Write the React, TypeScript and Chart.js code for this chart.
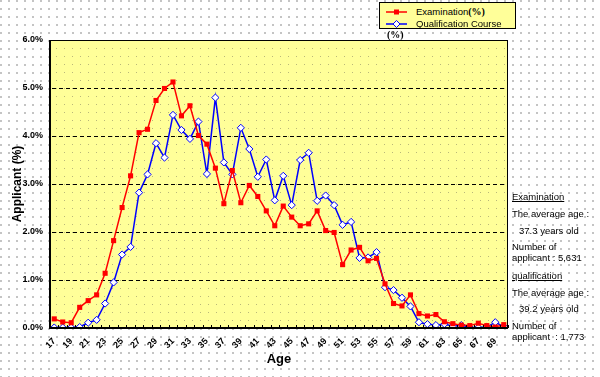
import React, { useEffect, useRef } from 'react';
import { Chart, registerables } from 'chart.js';

Chart.register(...registerables);

const ages = ['17','18','19','20','21','22','23','24','25','26','27','28','29','30','31','32','33','34','35','36','37','38','39','40','41','42','43','44','45','46','47','48','49','50','51','52','53','54','55','56','57','58','59','60','61','62','63','64','65','66','67','68','69','70'];

const examination = [0.19,0.125,0.11,0.43,0.57,0.69,1.14,1.82,2.51,3.17,4.07,4.14,4.74,4.99,5.125,4.42,4.63,4.01,3.83,3.33,2.59,3.28,2.61,2.97,2.74,2.44,2.13,2.54,2.31,2.13,2.17,2.44,2.03,1.99,1.32,1.625,1.68,1.40,1.45,0.92,0.51,0.46,0.69,0.30,0.25,0.28,0.13,0.09,0.06,0.05,0.10,0.05,0.02,0.07];

const qualification = [0.01,0.01,0.01,0.02,0.11,0.17,0.51,0.95,1.53,1.69,2.82,3.20,3.85,3.55,4.44,4.125,3.94,4.30,3.21,4.80,3.45,3.20,4.17,3.73,3.15,3.51,2.66,3.17,2.56,3.50,3.65,2.65,2.76,2.56,2.15,2.21,1.46,1.47,1.58,0.85,0.79,0.63,0.45,0.12,0.08,0.06,0.08,0.04,0.06,0.01,0.01,0.02,0.12,0.03];

const yMin = 0;
const yMax = 6;
const yStep = 1;

const seriesNames = ['Examination', 'Qualification Course'];

const notes: { text: string; x: number; y: number; u?: boolean }[] = [
  { text: 'Examination', x: 512, y: 197, u: true },
  { text: 'The average age :', x: 512, y: 214 },
  { text: '37.3 years old', x: 519, y: 231 },
  { text: 'Number of', x: 512, y: 247 },
  { text: 'applicant : 5,631', x: 512, y: 258 },
  { text: 'qualification', x: 512, y: 276, u: true },
  { text: 'The average age :', x: 512, y: 293 },
  { text: '39.2 years old', x: 519, y: 309 },
  { text: 'Number of', x: 512, y: 326 },
  { text: 'applicant  : 1,773', x: 512, y: 337 },
];

const FONT = '"Liberation Sans", Arial, sans-serif';

const decorPlugin = {
  id: 'decor',
  beforeDraw(chart: any) {
    const { ctx, chartArea: a } = chart;
    const pc = document.createElement('canvas');
    pc.width = 8;
    pc.height = 8;
    const p = pc.getContext('2d')!;
    p.fillStyle = '#ffff99';
    p.fillRect(0, 0, 8, 8);
    p.fillStyle = '#b9b77a';
    p.fillRect(0, 0, 1, 1);
    const pat = ctx.createPattern(pc, 'repeat');
    ctx.save();
    ctx.fillStyle = pat || '#ffff99';
    ctx.fillRect(a.left, a.top, a.right - a.left, a.bottom - a.top);
    ctx.restore();
  },
  beforeDatasetsDraw(chart: any) {
    const { ctx, chartArea: a } = chart;
    const ys = chart.scales.y;
    ctx.save();
    ctx.strokeStyle = '#000';
    ctx.lineWidth = 1;
    ctx.setLineDash([4, 3]);
    ys.ticks.forEach((t: any) => {
      if (t.value <= yMin || t.value >= yMax) return;
      const py = Math.round(ys.getPixelForValue(t.value)) + 0.5;
      ctx.beginPath();
      ctx.moveTo(a.left + 2, py);
      ctx.lineTo(a.right, py);
      ctx.stroke();
    });
    ctx.restore();
  },
  afterDraw(chart: any) {
    const { ctx, chartArea: a } = chart;
    const xs = chart.scales.x;
    const n = chart.data.labels.length;
    ctx.save();
    ctx.strokeStyle = '#000';
    ctx.lineWidth = 1;
    for (let i = 0; i <= n; i++) {
      const px = Math.round(xs.left + (i * (xs.right - xs.left)) / n) + 0.5;
      ctx.beginPath();
      ctx.moveTo(px, a.bottom - 3);
      ctx.lineTo(px, a.bottom);
      ctx.stroke();
    }
    ctx.strokeRect(a.left + 0.5, a.top + 0.5, a.right - a.left - 1, a.bottom - a.top - 1);
    ctx.fillStyle = '#000';
    ctx.fillRect(a.left - 1, a.top, 2, a.bottom - a.top + 1);
    ctx.fillRect(a.left - 1, a.bottom - 1, a.right - a.left + 1, 2);
    ctx.restore();
  },
};

export default function App() {
  const ref = useRef<HTMLCanvasElement>(null);

  useEffect(() => {
    if (!ref.current) return;
    const chart = new Chart(ref.current, {
      type: 'line',
      data: {
        labels: ages,
        datasets: [
          {
            label: seriesNames[0],
            data: examination,
            borderColor: '#ff0000',
            backgroundColor: '#ff0000',
            borderWidth: 1.5,
            pointStyle: 'rect',
            pointRadius: 3.6,
            pointBorderWidth: 0,
            pointBackgroundColor: '#ff0000',
            tension: 0,
          },
          {
            label: seriesNames[1],
            data: qualification,
            borderColor: '#0000ff',
            backgroundColor: '#ffffff',
            borderWidth: 1.5,
            pointStyle: 'rectRot',
            pointRadius: 3.6,
            pointBorderWidth: 1,
            pointBackgroundColor: '#ffffff',
            pointBorderColor: '#0000ff',
            tension: 0,
          },
        ],
      },
      options: {
        animation: false,
        responsive: false,
        maintainAspectRatio: false,
        layout: { padding: { top: 40, right: 92, left: 0, bottom: 0 } },
        plugins: { legend: { display: false }, tooltip: { enabled: false } },
        scales: {
          x: {
            type: 'category',
            offset: true,
            grid: { display: false, drawTicks: false },
            border: { display: false },
            ticks: {
              autoSkip: false,
              maxRotation: 45,
              minRotation: 45,
              padding: 8,
              color: '#000',
              font: { family: FONT, size: 9, weight: 'bold' },
              callback: (_v: any, i: number) => (i % 2 === 0 ? ages[i] : ''),
            },
            title: {
              display: true,
              text: 'Age',
              color: '#000',
              font: { family: FONT, size: 13, weight: 'bold' },
              padding: { top: 0, bottom: 10 },
            },
            afterFit: (s: any) => {
              s.height = 49;
            },
          },
          y: {
            min: yMin,
            max: yMax,
            grid: { display: false, drawTicks: false },
            border: { display: false },
            ticks: {
              stepSize: yStep,
              padding: 7,
              color: '#000',
              font: { family: FONT, size: 9, weight: 'bold' },
              callback: (v: any) => `${Number(v).toFixed(1)}%`,
            },
            title: {
              display: true,
              text: 'Applicant (%)',
              color: '#000',
              font: { family: FONT, size: 12, weight: 'bold' },
              padding: { top: 10, bottom: 0 },
            },
            afterFit: (s: any) => {
              s.width = 50;
            },
          },
        },
      } as any,
      plugins: [decorPlugin],
    });
    return () => chart.destroy();
  }, []);

  return (
    <div
      style={{
        position: 'absolute',
        left: 0,
        top: 0,
        width: 600,
        height: 377,
        overflow: 'hidden',
        backgroundColor: '#ffffff',
        backgroundImage: 'radial-gradient(circle at 1px 1px, #c4c4c4 0.8px, transparent 1px)',
        backgroundSize: '8px 8px',
        fontFamily: FONT,
      }}
    >
      <canvas ref={ref} width={600} height={377} style={{ position: 'absolute', left: 0, top: 0 }} />
      <div
        style={{
          position: 'absolute',
          left: 379,
          top: 2,
          width: 137,
          height: 27,
          boxSizing: 'border-box',
          background: '#ffff99',
          border: '1px solid #000',
        }}
      >
        <svg width={30} height={27} style={{ position: 'absolute', left: 3, top: -1 }}>
          <line x1={3} y1={10} x2={24} y2={10} stroke="#ff0000" strokeWidth={1.5} />
          <rect x={11} y={7.5} width={5} height={5} fill="#ff0000" />
          <line x1={3} y1={22} x2={24} y2={22} stroke="#0000ff" strokeWidth={1.5} />
          <polygon points="13.5,18.5 17,22 13.5,25.5 10,22" fill="#fff" stroke="#0000ff" strokeWidth={1} />
        </svg>
        <div style={{ position: 'absolute', left: 36, top: 3, fontSize: 9.5, lineHeight: '12px', whiteSpace: 'nowrap', color: '#000' }}>
          {seriesNames[0]}
          <b style={{ fontFamily: '"Liberation Serif", serif', fontSize: 10 }}>(%)</b>
        </div>
        <div style={{ position: 'absolute', left: 36, top: 15, fontSize: 9.5, lineHeight: '12px', whiteSpace: 'nowrap', color: '#000' }}>
          {seriesNames[1]}
        </div>
      </div>
      <div style={{ position: 'absolute', left: 387, top: 29, fontSize: 10, lineHeight: '12px', fontWeight: 'bold', fontFamily: '"Liberation Serif", serif', color: '#000' }}>
        (%)
      </div>
      {notes.map((n, i) => (
        <div
          key={i}
          style={{
            position: 'absolute',
            left: n.x,
            top: n.y - 6,
            fontSize: 9.5,
            lineHeight: '12px',
            whiteSpace: 'pre',
            color: '#000',
            textDecoration: n.u ? 'underline' : 'none',
          }}
        >
          {n.text}
        </div>
      ))}
    </div>
  );
}
